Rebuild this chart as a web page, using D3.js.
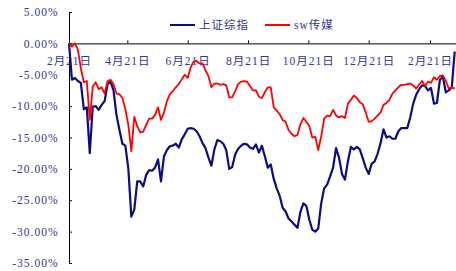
<!DOCTYPE html>
<html>
<head>
<meta charset="utf-8">
<script src="https://d3js.org/d3.v7.min.js"></script>
<style>
  html, body { margin: 0; padding: 0; background: #fff; }
  svg { display: block; }
  text { font-family: "Liberation Serif", "Noto Sans CJK SC", serif; fill: #333399; }
</style>
</head>
<body>
<div id="chart"></div>
<script>
// every 3rd calendar day, from 2018-02-21
const dates = [
  "2018-02-21","2018-02-24","2018-02-27","2018-03-02","2018-03-05","2018-03-08","2018-03-11","2018-03-14","2018-03-17","2018-03-20",
  "2018-03-23","2018-03-26","2018-03-29","2018-04-01","2018-04-04","2018-04-07","2018-04-10","2018-04-13","2018-04-16","2018-04-19",
  "2018-04-22","2018-04-25","2018-04-28","2018-05-01","2018-05-04","2018-05-07","2018-05-10","2018-05-13","2018-05-16","2018-05-19",
  "2018-05-22","2018-05-25","2018-05-28","2018-05-31","2018-06-03","2018-06-06","2018-06-09","2018-06-12","2018-06-15","2018-06-18",
  "2018-06-21","2018-06-24","2018-06-27","2018-06-30","2018-07-03","2018-07-06","2018-07-09","2018-07-12","2018-07-15","2018-07-18",
  "2018-07-21","2018-07-24","2018-07-27","2018-07-30","2018-08-02","2018-08-05","2018-08-08","2018-08-11","2018-08-14","2018-08-17",
  "2018-08-20","2018-08-23","2018-08-26","2018-08-29","2018-09-01","2018-09-04","2018-09-07","2018-09-10","2018-09-13","2018-09-16",
  "2018-09-19","2018-09-22","2018-09-25","2018-09-28","2018-10-01","2018-10-04","2018-10-07","2018-10-10","2018-10-13","2018-10-16",
  "2018-10-19","2018-10-22","2018-10-25","2018-10-28","2018-10-31","2018-11-03","2018-11-06","2018-11-09","2018-11-12","2018-11-15",
  "2018-11-18","2018-11-21","2018-11-24","2018-11-27","2018-11-30","2018-12-03","2018-12-06","2018-12-09","2018-12-12","2018-12-15",
  "2018-12-18","2018-12-21","2018-12-24","2018-12-27","2018-12-30","2019-01-02","2019-01-05","2019-01-08","2019-01-11","2019-01-14",
  "2019-01-17","2019-01-20","2019-01-23","2019-01-26","2019-01-29","2019-02-01","2019-02-04","2019-02-07","2019-02-10","2019-02-13",
  "2019-02-16","2019-02-19","2019-02-22","2019-02-25","2019-02-28","2019-03-03","2019-03-06","2019-03-09","2019-03-12","2019-03-15",
  "2019-03-18"
];

// 上证综指, cumulative change in %
const sseValues = [
  0, -5.8, -5.5, -6.0, -6.3, -10.5, -10.2, -17.5, -10.1, -10.0,
  -10.6, -9.8, -9.2, -6.5, -6.1, -7.5, -11.4, -13.8, -16.0, -16.3,
  -20.0, -27.6, -26.5, -22.0, -22.0, -22.8, -21.0, -20.2, -20.3, -19.8,
  -18.5, -22.0, -18.0, -17.0, -16.4, -16.3, -16.0, -16.6, -15.3, -14.5,
  -13.6, -13.5, -13.6, -14.0, -14.8, -15.9, -16.7, -18.2, -19.5, -16.9,
  -15.4, -15.6, -16.0, -17.0, -20.0, -19.7, -17.7, -16.8, -16.3, -16.0,
  -16.1, -16.6, -16.8, -16.1, -17.4, -16.3, -18.0, -19.8, -19.3, -21.6,
  -23.1, -24.3, -26.2, -26.8, -27.9, -28.4, -28.9, -29.4, -26.8, -25.5,
  -25.9, -28.1, -29.7, -30.0, -29.5, -25.5, -23.1, -22.5, -21.2, -19.8,
  -16.7, -18.2, -20.8, -21.7, -18.8, -16.5, -16.9, -16.5, -16.9, -18.3,
  -19.8, -20.8, -19.2, -18.8, -17.6, -15.9, -13.7, -15.0, -14.8, -15.2,
  -15.2, -14.0, -13.5, -13.5, -13.5, -11.8, -9.6, -8.2, -7.3, -6.7,
  -6.8, -7.5, -7.1, -9.6, -9.5, -5.8, -5.3, -7.8, -7.5, -7.0,
  -1.3
];

// sw传媒, cumulative change in %
const mediaValues = [
  0, -0.5, 0, -1.0, -4.0, -6.2, -6.0, -12.2, -6.9, -6.2,
  -7.3, -7.0, -8.0, -6.0, -5.8, -6.5, -8.0, -8.1, -8.7, -10.5,
  -13.0, -17.2, -11.7, -13.2, -14.2, -14.1, -13.0, -12.0, -12.0, -11.4,
  -10.2, -12.2, -11.0, -9.2, -8.1, -7.6, -7.0, -6.5, -5.7, -5.0,
  -5.5, -3.8, -2.9, -2.8, -3.2, -3.2, -4.3, -5.2, -7.0, -6.4,
  -6.4, -6.6, -6.5, -6.7, -8.6, -8.6, -7.6, -6.5, -6.1, -6.0,
  -6.1, -6.8, -7.5, -7.5, -8.5, -8.7, -7.8, -7.0, -7.0, -10.2,
  -10.7, -11.3, -12.2, -12.5, -13.8, -14.4, -14.8, -14.6, -12.9, -11.9,
  -12.5, -13.2, -15.0, -14.9, -17.0, -14.8, -12.0, -11.5, -11.6, -10.6,
  -11.5, -11.8, -11.6, -11.9, -9.6, -9.0, -8.3, -8.7, -9.4, -9.7,
  -11.0, -12.5, -12.4, -12.0, -11.5, -11.0, -9.8, -9.5, -9.0, -8.0,
  -7.5, -7.0, -6.6, -6.6, -6.5, -6.4, -6.7, -7.2, -6.6, -6.0,
  -6.8, -6.1, -6.3, -5.4, -5.8, -5.2, -5.1, -6.0, -7.2, -7.0,
  -7.2
];

const yTicks = [5, 0, -5, -10, -15, -20, -25, -30, -35];
const xTickDates = ["2018-02-21", "2018-04-21", "2018-06-21", "2018-08-21", "2018-10-21", "2018-12-21", "2019-02-21"];
const xTickLabels = ["2月21日", "4月21日", "6月21日", "8月21日", "10月21日", "12月21日", "2月21日"];
const seriesNames = ["上证综指", "sw传媒"];
const seriesColors = ["#0c0c84", "#ff0000"];

const WIDTH = 456;
const HEIGHT = 271;
const parseDate = d3.timeParse("%Y-%m-%d");

const svg = d3.select("#chart")
  .append("svg")
  .attr("width", WIDTH)
  .attr("height", HEIGHT);

// one year (Feb 21 -> Feb 21) spans 69..430 px
const x = d3.scaleTime()
  .domain([parseDate("2018-02-21"), parseDate("2019-03-20")])
  .range([69, 69 + 392 * 361 / 365]);

const y = d3.scaleLinear()
  .domain([-35, 5])
  .range([263, 12]);

const labelLookup = new Map(xTickDates.map((d, i) => [+parseDate(d), xTickLabels[i]]));

// x axis sits on the 0% line, ticks point up, labels hang below
const xAxis = svg.append("g")
  .attr("transform", `translate(0,${y(0)})`)
  .call(d3.axisBottom(x)
    .tickValues(xTickDates.map(parseDate))
    .tickSizeInner(-3)
    .tickSizeOuter(0)
    .tickPadding(13)
    .tickFormat(d => labelLookup.get(+d)));

const yAxis = svg.append("g")
  .attr("transform", "translate(69,0)")
  .call(d3.axisLeft(y)
    .tickValues(yTicks)
    .tickSizeInner(-3)
    .tickSizeOuter(0)
    .tickPadding(10.5)
    .tickFormat(d => d.toFixed(2) + "%"));

[xAxis, yAxis].forEach(ax => {
  ax.attr("font-family", null).attr("font-size", null);
  ax.selectAll("path.domain").attr("stroke", "#000").attr("stroke-width", 1);
  ax.selectAll(".tick line").attr("stroke", "#000");
  ax.selectAll("text")
    .attr("fill", "#333399")
    .style("font-size", "11.5px")
    .style("letter-spacing", "1px");
});

const line = d3.line()
  .x(d => x(d.date))
  .y(d => y(d.value));

const seriesValues = [sseValues, mediaValues];
const seriesWidths = [2.2, 1.8];

seriesValues.forEach((vals, s) => {
  const pts = dates.map((d, i) => ({ date: parseDate(d), value: vals[i] }));
  svg.append("path")
    .datum(pts)
    .attr("fill", "none")
    .attr("stroke", seriesColors[s])
    .attr("stroke-width", seriesWidths[s])
    .attr("stroke-linejoin", "round")
    .attr("d", line);
});

// legend
const legendX = [170, 265];
const legend = svg.append("g");
seriesNames.forEach((name, i) => {
  legend.append("line")
    .attr("x1", legendX[i]).attr("x2", legendX[i] + 25)
    .attr("y1", 25).attr("y2", 25)
    .attr("stroke", seriesColors[i])
    .attr("stroke-width", 2);
  legend.append("text")
    .attr("x", legendX[i] + 29)
    .attr("y", 25)
    .attr("dy", "0.36em")
    .style("font-size", "11.5px")
    .style("letter-spacing", "1px")
    .text(name);
});
</script>
</body>
</html>
